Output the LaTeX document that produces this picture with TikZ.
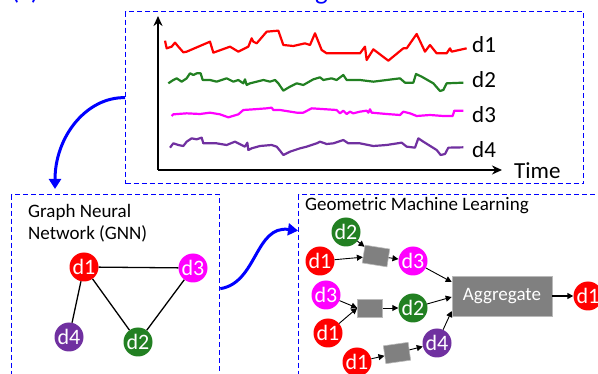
\documentclass[tikz,border=0pt]{standalone}
\usepackage{fontspec}
\setmainfont{Carlito}
\usetikzlibrary{arrows.meta}
\definecolor{dgreen}{RGB}{34,128,34}
\definecolor{dpurple}{RGB}{112,48,160}
\definecolor{dmag}{RGB}{255,0,255}
\definecolor{boxgray}{RGB}{128,128,128}
\begin{document}
\begin{tikzpicture}[x=1pt,y=-1pt,
  dashbox/.style={draw=blue, dash pattern=on 5pt off 3pt, line width=1.3pt, inner sep=0pt},
  gnode/.style={circle, minimum size=29pt, inner sep=0pt, text=white, font=\fontsize{22}{22}\selectfont},
  proc/.style={fill=boxgray, draw=gray!55, line width=0.6pt, minimum width=25pt, minimum height=18pt, inner sep=0pt},
  aggbox/.style={fill=boxgray, draw=gray!55, line width=0.6pt, minimum width=100pt, minimum height=40pt, inner sep=0pt, text=white, font=\fontsize{19}{19}\selectfont},
  arr/.style={-{Triangle[length=6pt,width=6pt]}, line width=0.9pt},
  bigarr/.style={blue, line width=3pt, -{Triangle[length=10pt,width=12pt]}},
  axis/.style={line width=1.8pt, -{Stealth[length=10pt,width=9pt]}},
  curve/.style={line width=2.2pt, line join=round},
  lbl/.style={font=\fontsize{23}{23}\selectfont, inner sep=0pt, anchor=west},
  hdr/.style={font=\fontsize{19}{22}\selectfont, inner sep=0pt, anchor=north west, align=left}
]
\useasboundingbox (0,0) rectangle (598,374);

% title (cut off at top)
\node[anchor=base west, text=blue, font=\fontsize{27}{27}\selectfont, inner sep=0pt] (title) at (11,0) {(c) GNN Network Embedding of Time Series};

% containers
\node[dashbox, anchor=north west, minimum width=458pt, minimum height=172pt] (ts) at (125,11) {};
\node[dashbox, anchor=north west, minimum width=208pt, minimum height=200pt] (gnn) at (11,194) {};
\node[dashbox, anchor=north west, minimum width=320pt, minimum height=200pt] (gml) at (298,194) {};

% axes
\coordinate (origin) at (158,170);
\coordinate (ytop) at (158,16);
\coordinate (xend) at (502,170);
\draw[axis] (origin) -- (ytop);
\draw[axis] (origin) -- (xend);
\node[lbl] (time) at (514,171) {Time};

% time series
\begin{scope}[shift={(120,20)}, scale=1/3]
\draw[curve, red] (135,62)--(140,85)--(155,80)--(165,68)--(175,80)--(190,97)--(200,95)--(270,65)--(280,98)--(330,80)--(355,95)--(385,80)--(395,55)--(400,65)--(410,70)--(440,35)--(475,32)--(490,75)--(520,78)--(555,70)--(570,75)--(585,40)--(605,90)--(620,100)--(720,100)--(735,80)--(740,120)--(760,88)--(805,122)--(850,85)--(860,85)--(890,42)--(915,95)--(930,75)--(950,100)--(980,100)--(990,85)--(995,95)--(1040,85);
\draw[curve, dgreen] (145,190)--(160,180)--(170,175)--(185,185)--(200,175)--(210,160)--(220,165)--(230,160)--(242,160)--(248,180)--(270,180)--(290,185)--(320,175)--(340,185)--(355,180)--(370,190)--(375,178)--(380,195)--(390,190)--(410,185)--(430,180)--(450,185)--(465,180)--(475,190)--(490,212)--(510,200)--(530,190)--(550,195)--(580,178)--(600,172)--(610,180)--(635,175)--(650,180)--(670,165)--(680,180)--(720,180)--(760,185)--(800,180)--(840,175)--(855,188)--(880,188)--(888,162)--(905,170)--(940,190)--(960,213)--(970,210)--(980,190)--(1030,188);
\draw[curve, dmag] (155,288)--(160,283)--(200,280)--(240,282)--(270,278)--(300,283)--(325,292)--(355,283)--(370,270)--(400,268)--(440,265)--(455,263)--(460,270)--(480,270)--(530,278)--(550,278)--(575,265)--(620,268)--(650,270)--(660,280)--(670,272)--(680,282)--(690,275)--(700,280)--(720,275)--(740,272)--(745,278)--(750,268)--(755,278)--(800,282)--(840,285)--(850,275)--(870,280)--(890,288)--(930,285)--(970,288)--(998,288)--(1003,272)--(1030,272);
\draw[curve, dpurple] (150,383)--(160,370)--(175,375)--(190,378)--(200,365)--(215,355)--(230,358)--(245,353)--(250,370)--(290,370)--(320,375)--(345,365)--(375,380)--(382,368)--(385,390)--(395,385)--(420,378)--(455,375)--(470,380)--(480,392)--(490,405)--(510,395)--(540,385)--(560,380)--(590,370)--(600,365)--(620,372)--(640,370)--(670,360)--(685,370)--(720,370)--(760,378)--(800,375)--(845,368)--(860,380)--(885,383)--(895,355)--(910,365)--(950,390)--(962,405)--(975,402)--(985,383)--(1030,382);
\end{scope}
\node[lbl] (l1) at (472,45) {d1};
\node[lbl] (l2) at (472,80) {d2};
\node[lbl] (l3) at (472,115) {d3};
\node[lbl] (l4) at (472,150) {d4};

% GNN
\node[hdr] (gnnt) at (28,204) {Graph Neural\\Network (GNN)};
\node[gnode, fill=red] (g1) at (84,267) {d1};
\node[gnode, fill=dmag] (g3) at (193,268) {d3};
\node[gnode, fill=dpurple] (g4) at (69,337) {d4};
\node[gnode, fill=dgreen] (g2) at (138,342) {d2};
\draw[line width=1.3pt] (g1) -- (g3);
\draw[line width=1.3pt] (g1) -- (g4);
\draw[line width=1.3pt] (g1) -- (g2);
\draw[line width=1.3pt] (g2) -- (g3);

% GML
\node[hdr] (gmlt) at (305,197) {Geometric Machine Learning};
\node[gnode, fill=dgreen] (m2a) at (346,232) {d2};
\node[gnode, fill=red] (m1a) at (320,261) {d1};
\node[proc, rotate=-9] (p1) at (376,256) {};
\node[gnode, fill=dmag] (m3a) at (413,261) {d3};
\node[gnode, fill=dmag] (m3b) at (326,295) {d3};
\node[gnode, fill=red] (m1b) at (328,333) {d1};
\node[proc] (p2) at (370,308) {};
\node[gnode, fill=dgreen] (m2b) at (413,308) {d2};
\node[gnode, fill=red] (m1c) at (357,362) {d1};
\node[proc, rotate=8] (p3) at (397,353) {};
\node[gnode, fill=dpurple] (m4) at (437,343) {d4};
\node[aggbox] (agg) at (502,296) {Aggregate};
\node[gnode, fill=red] (out) at (588,296) {d1};

\draw[arr] (m2a) -- (p1);
\draw[arr] (m1a) -- (p1);
\draw[arr] (p1) -- (m3a);
\draw[arr] (m3a) -- ([yshift=14pt]agg.west);
\draw[arr] (m3b) -- (p2.west);
\draw[arr] (m1b) -- (p2.west);
\draw[arr] (p2) -- (m2b);
\draw[arr] (m2b) -- ([yshift=-1pt]agg.west);
\draw[arr] (m1c) -- (p3);
\draw[arr] (p3) -- (m4);
\draw[arr] (m4) -- ([yshift=-15pt]agg.west);
\draw[arr, line width=1.8pt] (agg) -- (out);

% big blue arrows
\draw[bigarr] (ts.west) .. controls (86,97) and (55,137) .. ([xshift=44pt,yshift=5pt]gnn.north west);
\draw[bigarr] ([yshift=6pt]gnn.east) .. controls (257,283) and (255,225) .. ([yshift=64pt]gml.west);
\end{tikzpicture}
\end{document}
